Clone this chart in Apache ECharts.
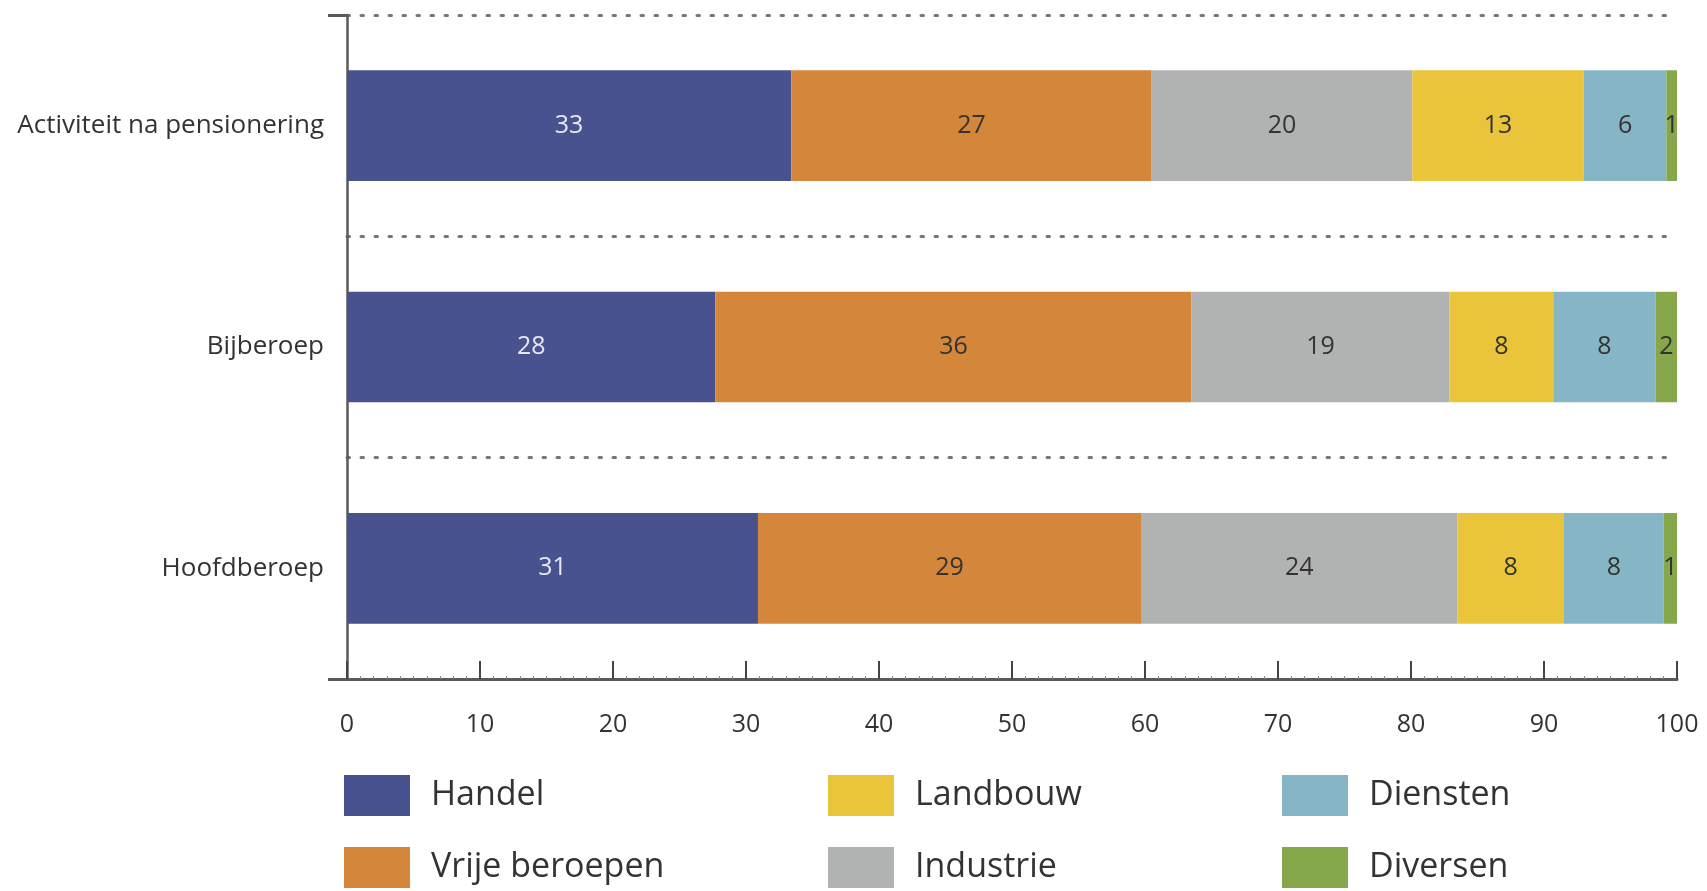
<!DOCTYPE html>
<html>
<head>
<meta charset="utf-8">
<script src="https://cdn.jsdelivr.net/npm/echarts@6/dist/echarts.min.js"></script>
<style>
  html, body { margin: 0; padding: 0; background: #fff; }
  #chart { width: 1707px; height: 891px; }
</style>
</head>
<body>
<div id="chart"></div>
<script>
// categories, bottom to top (category axis runs upward)
const categories = ['Hoofdberoep', 'Bijberoep', 'Activiteit na pensionering']

const seriesNames = ['Handel', 'Vrije beroepen', 'Industrie', 'Landbouw', 'Diensten', 'Diversen']
const seriesColors = ['#47528f', '#d4873a', '#b1b2b2', '#eac43a', '#86b5c6', '#86a84a']

// shares in %, same order as categories
const handel = [30.9, 27.7, 33.4]
const vrijeBeroepen = [28.8, 35.8, 27.1]
const industrie = [23.8, 19.4, 19.6]
const landbouw = [8.0, 7.8, 12.9]
const diensten = [7.5, 7.7, 6.2]
const diversen = [1.0, 1.6, 0.8]

const xTicks = [0, 10, 20, 30, 40, 50, 60, 70, 80, 90, 100]

const values = [handel, vrijeBeroepen, industrie, landbouw, diensten, diversen]
const font = '"Open Sans", "Noto Sans", sans-serif'

const chart = echarts.init(document.getElementById('chart'))

const legendGroups = [[0, 1], [3, 2], [4, 5]]
const legendLefts = [344, 828, 1282]

chart.setOption({
  backgroundColor: '#fff',
  animation: false,
  textStyle: { fontFamily: font },
  grid: { left: 347, right: 30, top: 15, bottom: 212, containLabel: false },
  legend: legendGroups.map((g, i) => ({
    orient: 'vertical',
    left: legendLefts[i],
    top: 775,
    padding: 0,
    itemWidth: 66,
    itemHeight: 41,
    itemGap: 31,
    icon: 'rect',
    selectedMode: false,
    data: g.map((k) => seriesNames[k]),
    textStyle: { fontSize: 34, color: '#333', fontFamily: font, padding: [0, 0, 0, 16] },
  })),
  xAxis: {
    type: 'value',
    min: xTicks[0],
    max: xTicks[xTicks.length - 1],
    interval: xTicks[1] - xTicks[0],
    axisLine: { show: true, lineStyle: { color: '#5a5a5a', width: 3 } },
    axisTick: { show: true, inside: true, length: 18, lineStyle: { color: '#444', width: 2 } },
    minorTick: { show: true, splitNumber: 10, length: 3, lineStyle: { color: '#888', width: 1 } },
    splitLine: { show: false },
    axisLabel: { fontSize: 25, color: '#333', margin: 33, fontFamily: font },
  },
  yAxis: {
    type: 'category',
    data: categories,
    axisLine: { show: true, lineStyle: { color: '#5a5a5a', width: 2.5 } },
    axisTick: {
      show: true,
      length: 19,
      interval: (idx) => idx === 0 || idx === categories.length,
      lineStyle: { color: '#5a5a5a', width: 3 },
    },
    splitLine: {
      show: true,
      lineStyle: { color: '#777', width: 3, type: [2.5, 11.5], cap: 'round' },
    },
    axisLabel: { fontSize: 26, color: '#333', margin: 23, fontFamily: font },
  },
  series: seriesNames.map((name, i) => ({
    name,
    type: 'bar',
    stack: 'total',
    barWidth: '50%',
    data: values[i],
    itemStyle: { color: seriesColors[i] },
    label: {
      show: true,
      position: 'inside',
      fontSize: 25,
      fontFamily: font,
      color: i === 0 ? '#e6e8f2' : '#333',
      formatter: (p) => Math.round(p.value),
    },
  })),
})
</script>
</body>
</html>
